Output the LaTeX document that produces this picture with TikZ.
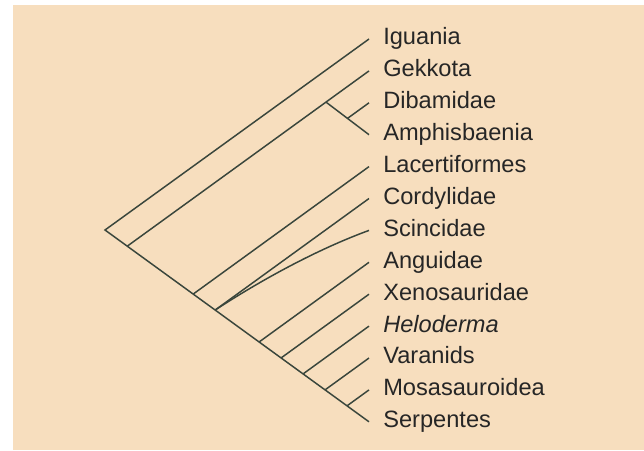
\documentclass[tikz,border=0pt]{standalone}
\usepackage{fontspec}
\setmainfont{Liberation Sans}
\usetikzlibrary{positioning,calc}
\definecolor{paper}{RGB}{247,222,190}
\definecolor{branch}{RGB}{58,70,60}
\definecolor{ink}{RGB}{38,38,38}

\begin{document}
\begin{tikzpicture}[x=0.025cm,y=-0.025cm,
    taxon/.style={anchor=west,inner sep=0pt,text=ink,
      font=\fontsize{16.8}{20}\selectfont,text height=12.5pt,text depth=4pt},
    edge/.style={draw=branch,line width=1.05pt}]
  % paper
  \useasboundingbox (0,0) rectangle (644,450);
  \fill[paper] (13,5) rectangle (644,450);
  % tips and names
  \foreach \lab/\txt [count=\i from 0] in {igu/Iguania,gek/Gekkota,
      dib/Dibamidae,amp/Amphisbaenia,lac/Lacertiformes,cor/Cordylidae,
      sci/Scincidae,ang/Anguidae,xen/Xenosauridae,hel/\textit{Heloderma},
      var/Varanids,mos/Mosasauroidea,ser/Serpentes}{
    \coordinate (\lab) at (369,{39+31.9*\i});
    \node[taxon,right=0.35cm of \lab] (\lab-name) {\txt};
  }
  % root and spine
  \coordinate (root) at (105,230);
  \draw[edge] (igu) -- (root) -- (ser);
  \foreach \lab/\i in {gek/1,lac/4,cor/5,ang/7,xen/8,hel/9,var/10,mos/11}{
    \pgfmathsetmacro{\sx}{(39+31.9*\i-230)/1.45+237}
    \pgfmathsetmacro{\sy}{230+0.725*(\sx-105)}
    \coordinate (n-\lab) at (\sx,\sy);
    \draw[edge] (n-\lab) -- (\lab);
  }
  % Dibamidae + Amphisbaenia
  \coordinate (n-da) at ($(n-gek)!0.822!(gek)$);
  \draw[edge] (n-da) -- (amp);
  \coordinate (n-dib) at ($(n-da)!0.5!(amp)$);
  \draw[edge] (n-dib) -- (dib);
  % Scincidae
  \draw[edge] (n-cor) .. controls +(46,-30) and +(-52,19) .. (sci);
\end{tikzpicture}
\end{document}
